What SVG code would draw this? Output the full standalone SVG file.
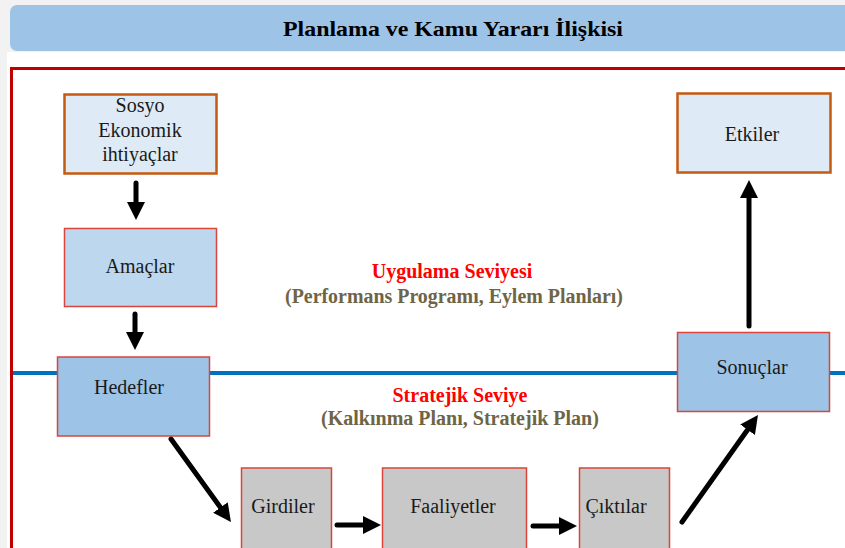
<svg xmlns="http://www.w3.org/2000/svg" width="845" height="548" viewBox="0 0 845 548">
<style>
  .t{font-family:"Liberation Serif","Times New Roman",serif;font-size:20px;fill:#1a1a1a;text-anchor:middle}
  .lv{font-family:"Liberation Serif","Times New Roman",serif;font-size:20px;font-weight:bold;text-anchor:middle}
  .red{fill:#ff0000}
  .ol{fill:#6e6446}
  .brown{fill:#deebf7;stroke:#c55a11;stroke-width:2.5}
  .blue1{fill:#bdd7ee;stroke:#d9453a;stroke-width:1.5}
  .blue2{fill:#9dc3e6;stroke:#d9453a;stroke-width:1.5}
  .grey{fill:#c8c8c8;stroke:#d9453a;stroke-width:1.5}
  .arr{stroke:#000;stroke-width:5;stroke-linecap:round;fill:none;marker-end:url(#ah)}
</style>
<defs>
  <marker id="ah" viewBox="0 0 18 18" refX="8" refY="9" markerWidth="18" markerHeight="18" markerUnits="userSpaceOnUse" orient="auto">
    <path d="M0,0 L18,9 L0,18 Z" fill="#000"/>
  </marker>
</defs>
<rect x="0" y="0" width="845" height="548" fill="#f2f2f2"/>
<rect x="7" y="52" width="838" height="496" fill="#ffffff"/>
<g id="title">
  <rect x="10" y="5" width="845" height="46" rx="7" fill="#9dc3e6"/>
  <text x="453" y="36" font-family="'Liberation Serif','Times New Roman',serif" font-size="21" font-weight="bold" text-anchor="middle" fill="#000" textLength="340" lengthAdjust="spacingAndGlyphs">Planlama ve Kamu Yararı İlişkisi</text>
</g>
<rect id="frame" x="11.5" y="68.5" width="845" height="490" fill="#ffffff" stroke="#c00000" stroke-width="3"/>
<line id="divider" x1="13" y1="373" x2="845" y2="373" stroke="#0070c0" stroke-width="4"/>
<g id="levels">
  <text class="lv red" x="452" y="278">Uygulama Seviyesi</text>
  <text class="lv ol" x="454" y="303" textLength="338" lengthAdjust="spacingAndGlyphs">(Performans Programı, Eylem Planları)</text>
  <text class="lv red" x="460" y="402">Stratejik Seviye</text>
  <text class="lv ol" x="460" y="425">(Kalkınma Planı, Stratejik Plan)</text>
</g>
<g id="connectors">
  <line class="arr" x1="136" y1="183" x2="136" y2="210"/>
  <line class="arr" x1="135" y1="314" x2="135" y2="340"/>
  <line class="arr" x1="171" y1="439" x2="225.1" y2="513.9"/>
  <line class="arr" x1="337" y1="525" x2="371" y2="525"/>
  <line class="arr" x1="533" y1="526" x2="567" y2="526"/>
  <line class="arr" x1="682" y1="522" x2="752.2" y2="423.2"/>
  <line class="arr" x1="749" y1="326" x2="749" y2="190"/>
</g>
<g id="sosyo">
  <rect class="brown" x="64.5" y="94.5" width="152" height="79"/>
  <text class="t" x="140" y="112">Sosyo</text>
  <text class="t" x="140" y="137">Ekonomik</text>
  <text class="t" x="140" y="161">ihtiyaçlar</text>
</g>
<g id="amaclar">
  <rect class="blue1" x="64.5" y="228.5" width="152" height="78"/>
  <text class="t" x="140" y="273">Amaçlar</text>
</g>
<g id="hedefler">
  <rect class="blue2" x="57.5" y="357" width="152" height="79"/>
  <text class="t" x="129" y="394">Hedefler</text>
</g>
<g id="girdiler">
  <rect class="grey" x="241.5" y="468" width="90" height="90"/>
  <text class="t" x="283" y="513">Girdiler</text>
</g>
<g id="faaliyetler">
  <rect class="grey" x="382.5" y="468" width="144" height="90"/>
  <text class="t" x="453" y="513">Faaliyetler</text>
</g>
<g id="ciktilar">
  <rect class="grey" x="579.5" y="468" width="90" height="90"/>
  <text class="t" x="616" y="513">Çıktılar</text>
</g>
<g id="sonuclar">
  <rect class="blue2" x="677.5" y="332.5" width="152" height="79"/>
  <text class="t" x="752" y="374">Sonuçlar</text>
</g>
<g id="etkiler">
  <rect class="brown" x="677.5" y="93.5" width="153" height="79"/>
  <text class="t" x="752" y="141">Etkiler</text>
</g>
</svg>
